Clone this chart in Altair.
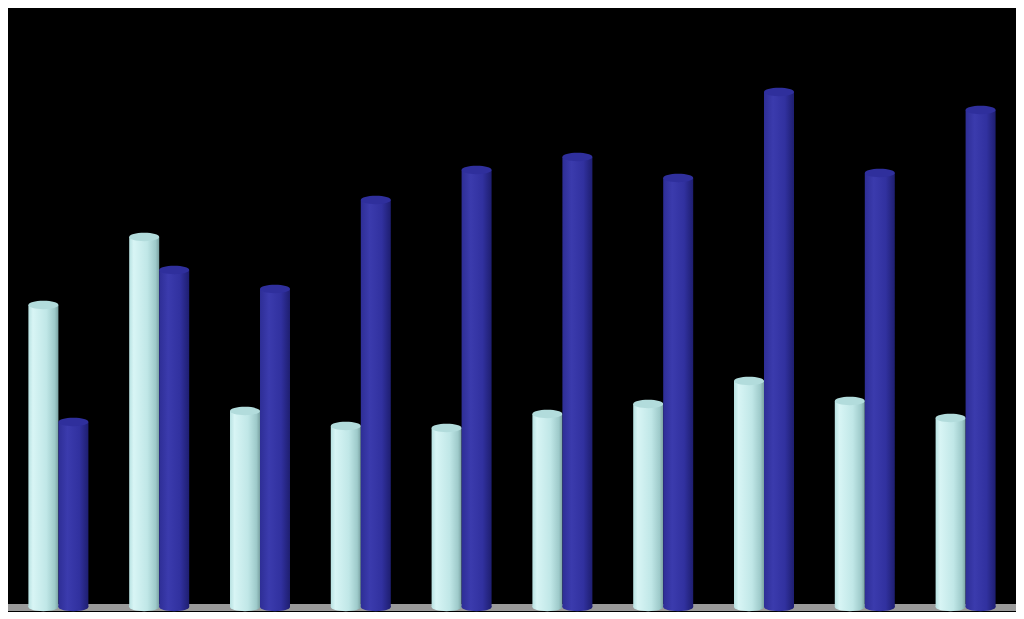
import altair as alt
import pandas as pd

groups = [str(i) for i in range(1, 11)]
series_names = ["A", "B"]
light_values = [302, 370, 196, 181, 179, 193, 203, 226, 206, 189]
dark_values = [185, 337, 318, 407, 437, 450, 429, 515, 434, 497]

rows = []
for g, lv, dv in zip(groups, light_values, dark_values):
    rows.append({"group": g, "series": series_names[0], "value": lv})
    rows.append({"group": g, "series": series_names[1], "value": dv})
df = pd.DataFrame(rows)

W, H = 1008, 603
ydom = [-4, 599]

x_enc = alt.X("group:N", sort=groups, axis=None,
              scale=alt.Scale(paddingInner=0, paddingOuter=0))
xo_enc = alt.XOffset("series:N", sort=series_names,
                     scale=alt.Scale(domain=series_names, paddingInner=0, paddingOuter=0.68))
y_enc = alt.Y("value:Q", axis=None, scale=alt.Scale(domain=ydom, nice=False, zero=False))

ellipse = "M-1,0A1,0.28,0,1,1,1,0A1,0.28,0,1,1,-1,0Z"

light_grad = alt.Gradient(
    gradient="linear", x1=0, x2=1, y1=0, y2=0,
    stops=[alt.GradientStop(color="#b8e2e2", offset=0),
           alt.GradientStop(color="#d8f5f5", offset=0.15),
           alt.GradientStop(color="#c0e7e7", offset=0.6),
           alt.GradientStop(color="#9ecaca", offset=0.88),
           alt.GradientStop(color="#7aa2a2", offset=1)])
dark_grad = alt.Gradient(
    gradient="linear", x1=0, x2=1, y1=0, y2=0,
    stops=[alt.GradientStop(color="#2e2e96", offset=0),
           alt.GradientStop(color="#3b3bad", offset=0.3),
           alt.GradientStop(color="#31319f", offset=0.7),
           alt.GradientStop(color="#1e1e70", offset=1)])

base = alt.Chart(df)

floor = alt.Chart(pd.DataFrame({"a": [0]})).mark_rect(color="#9a9a9a").encode(
    x=alt.value(0), x2=alt.value(W),
    y=alt.datum(-4, scale=alt.Scale(domain=ydom, nice=False, zero=False), axis=None),
    y2=alt.datum(3),
)

layers = [floor]
for name, grad, top_col in [(series_names[0], light_grad, "#b2dcdc"),
                            (series_names[1], dark_grad, "#2f2f9c")]:
    sub = base.transform_filter(alt.datum.series == name)
    bottom = sub.mark_point(shape=ellipse, size=900, filled=True, opacity=1,
                            color=grad, strokeWidth=0).encode(
        x=x_enc, xOffset=xo_enc,
        y=alt.datum(0, scale=alt.Scale(domain=ydom, nice=False, zero=False), axis=None))
    bar = sub.mark_bar(color=grad).encode(
        x=x_enc, xOffset=xo_enc, y=y_enc, y2=alt.datum(0))
    top = sub.mark_point(shape=ellipse, size=900, filled=True, opacity=1,
                         color=top_col, strokeWidth=0).encode(
        x=x_enc, xOffset=xo_enc, y=y_enc)
    layers += [bottom, bar, top]

chart = alt.layer(*layers).properties(
    width=W, height=H, background="black", padding=0
).configure_view(stroke=None)

chart.save("out.html", embed_options={"renderer": "svg", "actions": False})
